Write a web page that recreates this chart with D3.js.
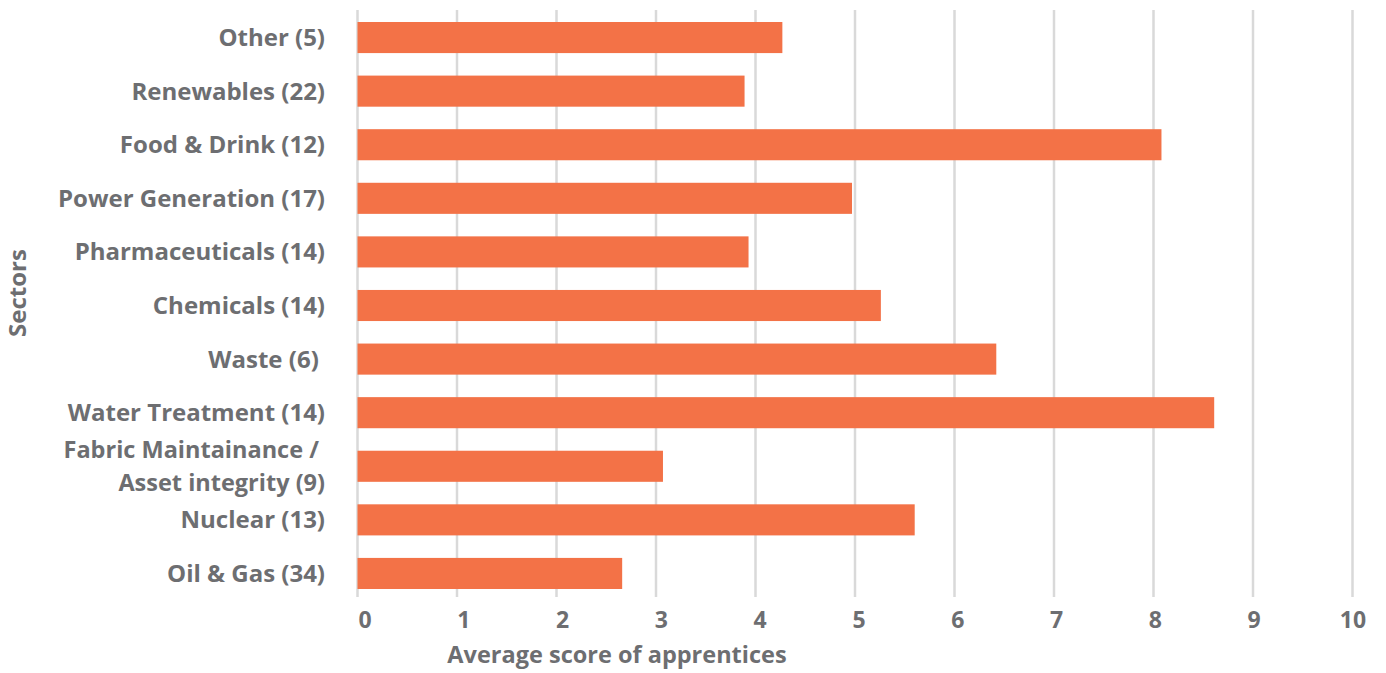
<!DOCTYPE html>
<html><head><meta charset="utf-8">
<script src="https://cdn.jsdelivr.net/npm/d3@7"></script>
<style>
html,body{margin:0;padding:0;background:#fff;}
text{font-family:"Open Sans",Lato,sans-serif;font-weight:700;fill:#6d6e71;white-space:pre;}
</style></head>
<body>
<svg id="c" width="1386" height="673"></svg>
<script>
const categories = ["Other (5)","Renewables (22)","Food & Drink (12)","Power Generation (17)","Pharmaceuticals (14)","Chemicals (14)","Waste (6) ","Water Treatment (14)","Fabric Maintainance / |Asset integrity (9)","Nuclear (13)","Oil & Gas (34)"];
const values = [4.27, 3.89, 8.08, 4.97, 3.93, 5.26, 6.42, 8.61, 3.07, 5.60, 2.66];
const ticks = [0,1,2,3,4,5,6,7,8,9,10];
const xTitle = "Average score of apprentices";
const yTitle = "Sectors";

const svg = d3.select("#c");
const x = d3.scaleLinear().domain([0,10]).range([357.5,1352.5]);
const xl = d3.scaleLinear().domain([0,10]).range([365,1353]);
const y = d3.scaleBand().domain(categories).range([10,601]).paddingInner(0.42).paddingOuter(0.224);

svg.append("g").selectAll("line").data(ticks).join("line")
  .attr("x1",d=>x(d)).attr("x2",d=>x(d)).attr("y1",10).attr("y2",597)
  .attr("stroke","#d9d9d9").attr("stroke-width",2.5);

svg.append("g").selectAll("rect").data(values).join("rect")
  .attr("x",x(0)).attr("y",(d,i)=>y(categories[i]))
  .attr("width",d=>x(d)-x(0)).attr("height",y.bandwidth())
  .attr("fill","#f37247");

const lab = svg.append("g").selectAll("text").data(categories).join("text")
  .attr("text-anchor","end").attr("font-size",24)
  .attr("x",325);
lab.each(function(d){
  const t = d3.select(this);
  const lines = d.split("|");
  const cy = y(d)+y.bandwidth()/2;
  const fs = lines.length>1 ? 23.5 : 24;
  t.attr("font-size",fs);
  lines.forEach((l,i)=>{
    t.append("tspan").attr("x",325)
     .attr("y", cy + 8.5 + (i-(lines.length-1)/2)*33).text(l);
  });
});

svg.append("g").selectAll("text").data(ticks).join("text")
  .attr("x",d=>xl(d)).attr("y",628).attr("text-anchor","middle")
  .attr("font-size",23).text(d=>d);

svg.append("text").attr("x",617).attr("y",663).attr("text-anchor","middle")
  .attr("font-size",23.5).text(xTitle);

svg.append("text").attr("transform","translate(26,293) rotate(-90)")
  .attr("text-anchor","middle").attr("font-size",24).text(yTitle);
</script>
</body></html>
